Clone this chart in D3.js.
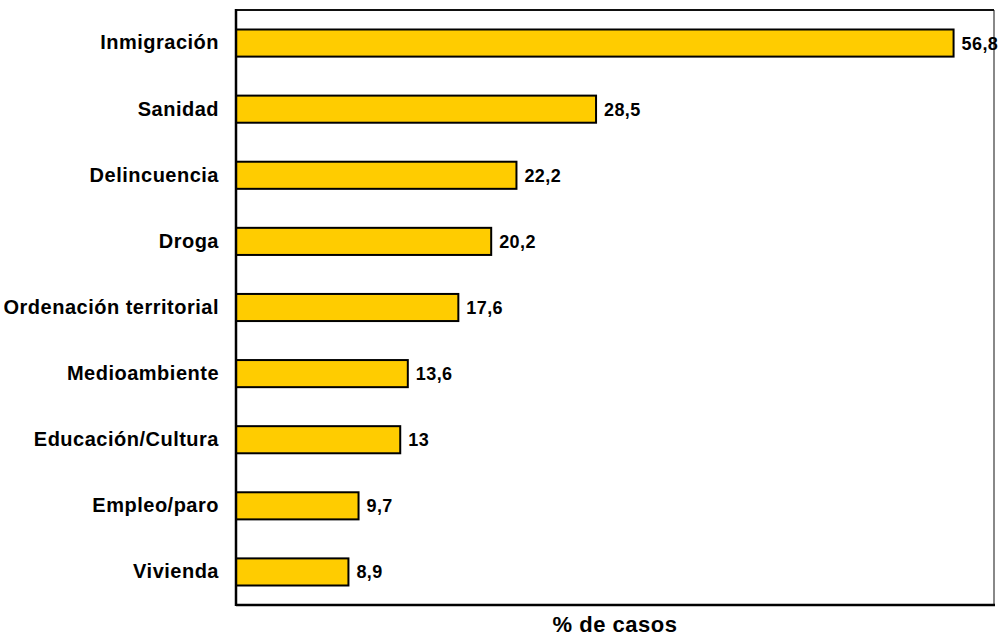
<!DOCTYPE html>
<html><head><meta charset="utf-8">
<script src="https://cdn.jsdelivr.net/npm/d3@7"></script>
<style>body{margin:0;background:#fff}</style>
</head><body>
<svg id="c" width="1005" height="638"></svg>
<script>
const categories = ["Inmigración","Sanidad","Delincuencia","Droga","Ordenación territorial","Medioambiente","Educación/Cultura","Empleo/paro","Vivienda"];
const values = [56.8,28.5,22.2,20.2,17.6,13.6,13,9.7,8.9];
const valueLabels = ["56,8","28,5","22,2","20,2","17,6","13,6","13","9,7","8,9"];
const axisTitle = "% de casos";

const svg = d3.select("#c");
const L = 236, T = 10, R = 994, B = 605;
const x = d3.scaleLinear().domain([0,60]).range([L,R]);
const y = d3.scaleBand().domain(categories).range([T,B]).paddingInner(0.59).paddingOuter(0.295);
const font = "'Liberation Sans', Arial, sans-serif";

// frame
svg.append("line").attr("x1",R).attr("x2",R).attr("y1",T).attr("y2",B).attr("stroke","#888").attr("stroke-width",2);
svg.append("line").attr("x1",L).attr("x2",R).attr("y1",T).attr("y2",T).attr("stroke","#111").attr("stroke-width",2);

svg.selectAll("rect.bar").data(values).join("rect").attr("class","bar")
  .attr("x",x(0)).attr("y",(d,i)=>y(categories[i]))
  .attr("width",d=>x(d)-x(0)).attr("height",y.bandwidth())
  .attr("fill","#FFCC00").attr("stroke","#000").attr("stroke-width",2);

svg.selectAll("text.val").data(values).join("text").attr("class","val")
  .attr("x",d=>x(d)+8).attr("y",(d,i)=>y(categories[i])+y.bandwidth()/2)
  .attr("dy","0.36em").attr("font-family",font).attr("font-weight","bold").attr("font-size",18)
  .attr("letter-spacing","0.4px")
  .text((d,i)=>valueLabels[i]);

const ya = svg.append("g").attr("transform",`translate(${L},0)`).call(d3.axisLeft(y).tickSize(0).tickPadding(17));
ya.select(".domain").remove();
ya.selectAll("text").attr("font-family",font).attr("font-weight","bold").attr("font-size",20)
  .attr("letter-spacing","0.5px").attr("fill","#000");

svg.append("line").attr("x1",L).attr("x2",L).attr("y1",T-1).attr("y2",B+1).attr("stroke","#000").attr("stroke-width",2.5);
svg.append("line").attr("x1",L).attr("x2",R+1).attr("y1",B).attr("y2",B).attr("stroke","#000").attr("stroke-width",2.5);

svg.append("text").attr("x",(L+R)/2).attr("y",632).attr("text-anchor","middle")
  .attr("font-family",font).attr("font-weight","bold").attr("font-size",22)
  .attr("letter-spacing","0.5px").text(axisTitle);
</script>
</body></html>
